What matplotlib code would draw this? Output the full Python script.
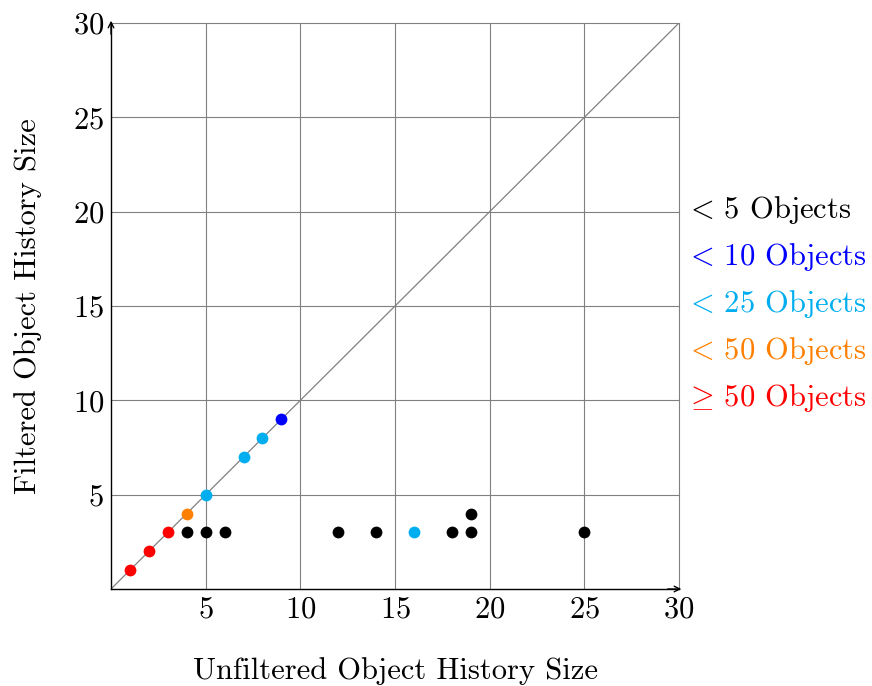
import matplotlib.pyplot as plt

plt.rcParams['font.family'] = 'serif'
plt.rcParams['font.serif'] = ['cmr10']
plt.rcParams['mathtext.fontset'] = 'cm'
plt.rcParams['axes.formatter.use_mathtext'] = True

# one group per legend entry: (label, colour, x values, y values)
labels = [r'$<\,$5 Objects', r'$<\,$10 Objects', r'$<\,$25 Objects',
          r'$<\,$50 Objects', r'$\geq\,$50 Objects']
colors = ['black', '#0000ff', '#00aeef', '#ff8000', '#ff0000']
xs = [[4, 5, 6, 12, 14, 18, 19, 19, 25], [9], [5, 7, 8, 16], [4], [1, 2, 3]]
ys = [[3, 3, 3, 3, 3, 3, 3, 4, 3], [9], [5, 7, 8, 3], [4], [1, 2, 3]]
ticks = [5, 10, 15, 20, 25, 30]

fig = plt.figure(figsize=(8.72, 6.86), dpi=100)
ax = fig.add_axes([0.1273, 0.1414, 0.6514, 0.8251])

ax.set_xlim(0, 30)
ax.set_ylim(0, 30)
ax.set_xticks(ticks)
ax.set_yticks(ticks)
ax.grid(True, color='#808080', linewidth=0.8)
for gl in ax.get_xgridlines() + ax.get_ygridlines():
    gl.set_clip_on(False)
ax.set_axisbelow(True)
ax.tick_params(labelsize=22, direction='in', length=0, pad=5)

ax.plot([0, 30], [0, 30], color='#808080', linewidth=0.9, zorder=2)

for lab, c, x, y in zip(labels, colors, xs, ys):
    ax.scatter(x, y, s=72, color=c, zorder=3, linewidths=0)

for s in ['top', 'right']:
    ax.spines[s].set_visible(False)
for s in ['left', 'bottom']:
    ax.spines[s].set_linewidth(1.0)

# arrow heads at the ends of the axis lines
ax.annotate('', xy=(1.004, 0), xytext=(0.98, 0), xycoords='axes fraction',
            arrowprops=dict(arrowstyle='->', color='black', lw=1.0,
                            shrinkA=0, shrinkB=0))
ax.annotate('', xy=(0, 1.004), xytext=(0, 0.98), xycoords='axes fraction',
            arrowprops=dict(arrowstyle='->', color='black', lw=1.0,
                            shrinkA=0, shrinkB=0))

ax.set_xlabel('Unfiltered Object History Size', fontsize=22, labelpad=24)
ax.set_ylabel('Filtered Object History Size', fontsize=22, labelpad=22)

# legend as coloured text on the right
ypos = [0.694, 0.625, 0.557, 0.488, 0.420]
for lab, c, yp in zip(labels, colors, ypos):
    fig.text(0.785, yp, lab, color=c, fontsize=22, va='center', ha='left')

fig.savefig('out.png', dpi=100)
